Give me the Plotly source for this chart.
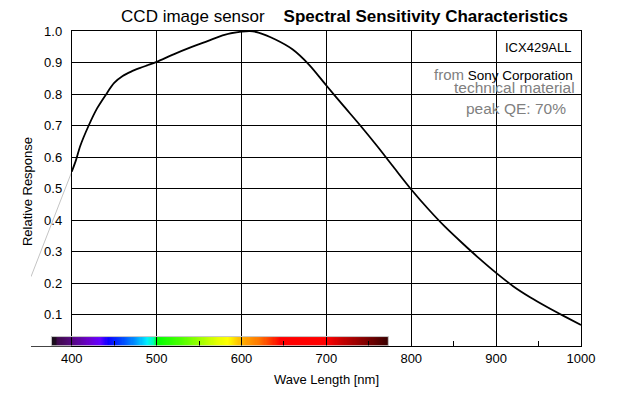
import numpy as np
import plotly.graph_objects as go

# ---------------- data ----------------
wavelength_nm = [400, 405, 410, 420, 430, 440, 450, 460, 470, 480, 490, 500,
                 520, 540, 560, 580, 600, 610, 620, 640, 660, 680, 700, 720,
                 740, 760, 780, 800, 820, 840, 860, 880, 900, 920, 940, 960,
                 980, 1000]
relative_response = [0.553, 0.59, 0.635, 0.70, 0.755, 0.797, 0.835, 0.857,
                     0.871, 0.882, 0.892, 0.902, 0.926, 0.948, 0.968, 0.988,
                     0.998, 1.0, 0.995, 0.973, 0.942, 0.892, 0.827, 0.763,
                     0.70, 0.634, 0.565, 0.497, 0.435, 0.378, 0.327, 0.278,
                     0.232, 0.19, 0.155, 0.124, 0.095, 0.067]

# thin grey extrapolation below 400 nm
extrap_nm = [352, 400]
extrap_response = [0.22, 0.553]

x_tick_vals = [400, 500, 600, 700, 800, 900, 1000]
x_tick_labels = ["400", "500", "600", "700", "800", "900", "1000"]
x_minor_vals = [450, 550, 650, 750, 850, 950]
y_tick_vals = [0.1, 0.2, 0.3, 0.4, 0.5, 0.6, 0.7, 0.8, 0.9, 1.0]
y_tick_labels = ["0.1", "0.2", "0.3", "0.4", "0.5", "0.6", "0.7", "0.8", "0.9", "1.0"]

# visible spectrum strip (nm)
spectrum_start_nm = 376
spectrum_end_nm = 773

# ---------------- geometry / style ----------------
OFF = 8                      # page body margin of the browser
W, H = 620 - OFF, 393 - OFF  # figure size so the page fills the window
ML, MR, MT, MB = 21 - OFF, 39, 31 - OFF, 47
PW, PH = W - ML - MR, H - MT - MB
wide_range = [352, 1000]
grid_range = [400, 1000]
x2_start = (grid_range[0] - wide_range[0]) / (wide_range[1] - wide_range[0])
FONT = "Liberation Sans, Arial, Helvetica, sans-serif"


def px_x(px):
    """window pixel x -> paper x"""
    return (px - OFF - ML) / PW


def px_y(py):
    """window pixel y -> paper y"""
    return (H - MB - (py - OFF)) / PH


spec_stops = [(376, "#151015"), (381, "#1e0a22"), (383, "#3e0a4a"),
              (400, "#55087e"), (420, "#6a00cc"), (433, "#6400ff"),
              (443, "#0a00ff"), (458, "#0040ff"), (474, "#0090ff"),
              (489, "#00f0ff"), (496, "#00ffb0"), (501, "#00ff00"),
              (530, "#50ff00"), (558, "#b8ff00"), (572, "#e8ff00"),
              (584, "#ffff00"), (596, "#ffc800"), (605, "#ffa000"),
              (620, "#ff7800"), (636, "#ff3000"), (646, "#ff0000"),
              (700, "#ff0000"), (718, "#c80000"), (740, "#900000"),
              (755, "#680000"), (773, "#380000")]
span = spectrum_end_nm - spectrum_start_nm
colorscale = [[(nm - spectrum_start_nm) / span, c] for nm, c in spec_stops]

edges = np.linspace(spectrum_start_nm, spectrum_end_nm, 300)
centers = (edges[:-1] + edges[1:]) / 2
bar_height = 0.03

fig = go.Figure()

fig.add_trace(go.Heatmap(
    x=edges, y=[0, bar_height], z=[centers],
    colorscale=colorscale, zmin=spectrum_start_nm, zmax=spectrum_end_nm,
    showscale=False, hoverinfo="skip", xaxis="x", yaxis="y"))

fig.add_trace(go.Scatter(
    x=extrap_nm, y=extrap_response, mode="lines",
    line=dict(color="#c4c4c4", width=1), hoverinfo="skip",
    xaxis="x", yaxis="y", showlegend=False))

fig.add_trace(go.Scatter(
    x=wavelength_nm, y=relative_response, mode="lines",
    line=dict(color="black", width=1.8, shape="spline", smoothing=0.8),
    xaxis="x2", yaxis="y2", showlegend=False))

fig.add_shape(type="rect", xref="x", yref="y",
              x0=spectrum_start_nm, x1=spectrum_end_nm, y0=0, y1=bar_height,
              line=dict(color="#c8c8c8", width=1), fillcolor="rgba(0,0,0,0)",
              layer="above")

ann = []
ann.append(dict(text="ICX429ALL", x=px_x(574), y=px_y(47.5), xref="paper", yref="paper",
                xanchor="right", yanchor="middle", showarrow=False,
                font=dict(family=FONT, size=13, color="black")))
ann.append(dict(text="<span style='color:#808080;font-size:15px'>from</span> Sony Corporation",
                x=px_x(575), y=px_y(75), xref="paper", yref="paper",
                xanchor="right", yanchor="middle", showarrow=False,
                font=dict(family=FONT, size=13.5, color="black")))
ann.append(dict(text="technical material", x=px_x(577), y=px_y(87),
                xref="paper", yref="paper", xanchor="right", yanchor="middle",
                showarrow=False, font=dict(family=FONT, size=15.5, color="#808080")))
ann.append(dict(text="peak QE: 70%", x=px_x(568), y=px_y(108),
                xref="paper", yref="paper", xanchor="right", yanchor="middle",
                showarrow=False, font=dict(family=FONT, size=15.5, color="#808080")))
ann.append(dict(text="Relative Response", x=px_x(17), y=px_y(192), textangle=-90,
                xref="paper", yref="paper", xanchor="center", yanchor="middle",
                showarrow=False, font=dict(family=FONT, size=13, color="black")))
ann.append(dict(text="Wave Length [nm]", x=px_x(322), y=px_y(379),
                xref="paper", yref="paper", xanchor="center", yanchor="middle",
                showarrow=False, font=dict(family=FONT, size=13, color="black")))

fig.update_layout(
    width=W, height=H,
    margin=dict(l=ML, r=MR, t=MT, b=MB, pad=0),
    paper_bgcolor="white", plot_bgcolor="rgba(0,0,0,0)",
    showlegend=False,
    font=dict(family=FONT, size=13, color="black"),
    title=dict(
        text="CCD image sensor&nbsp;&nbsp;&nbsp;&nbsp;<b>Spectral Sensitivity Characteristics</b>",
        xref="container", yref="container", x=(568 - OFF) / W, y=1 - (16.5 - OFF) / H,
        xanchor="right", yanchor="middle",
        font=dict(family=FONT, size=17, color="black")),
    xaxis=dict(domain=[0, 1], range=wide_range, anchor="y",
               showline=True, linecolor="#444444", linewidth=1,
               showgrid=False, zeroline=False,
               tickmode="array", tickvals=[wide_range[0]], ticktext=[""],
               ticks="inside", ticklen=5, tickcolor="#444444", fixedrange=True),
    yaxis=dict(domain=[0, 1], range=[0, 1], anchor="x", visible=False, fixedrange=True),
    xaxis2=dict(domain=[x2_start, 1], range=grid_range, anchor="y2",
                showline=True, mirror=True, linecolor="black", linewidth=1,
                showgrid=True, gridcolor="black", gridwidth=1, zeroline=False,
                tickmode="array", tickvals=x_tick_vals, ticktext=x_tick_labels,
                ticks="", tickfont=dict(family=FONT, size=13, color="black"),
                minor=dict(tickmode="array", tickvals=x_minor_vals, ticks="inside",
                           ticklen=5, tickcolor="black", tickwidth=1, showgrid=False),
                fixedrange=True),
    yaxis2=dict(domain=[0, 1], range=[0, 1], anchor="x2",
                showline=True, mirror=True, linecolor="black", linewidth=1,
                showgrid=True, gridcolor="black", gridwidth=1, zeroline=False,
                tickmode="array", tickvals=y_tick_vals, ticktext=y_tick_labels,
                ticks="", ticklabelstandoff=6,
                tickfont=dict(family=FONT, size=13, color="black"),
                fixedrange=True),
    annotations=ann,
)

fig.write_html("out.html")
